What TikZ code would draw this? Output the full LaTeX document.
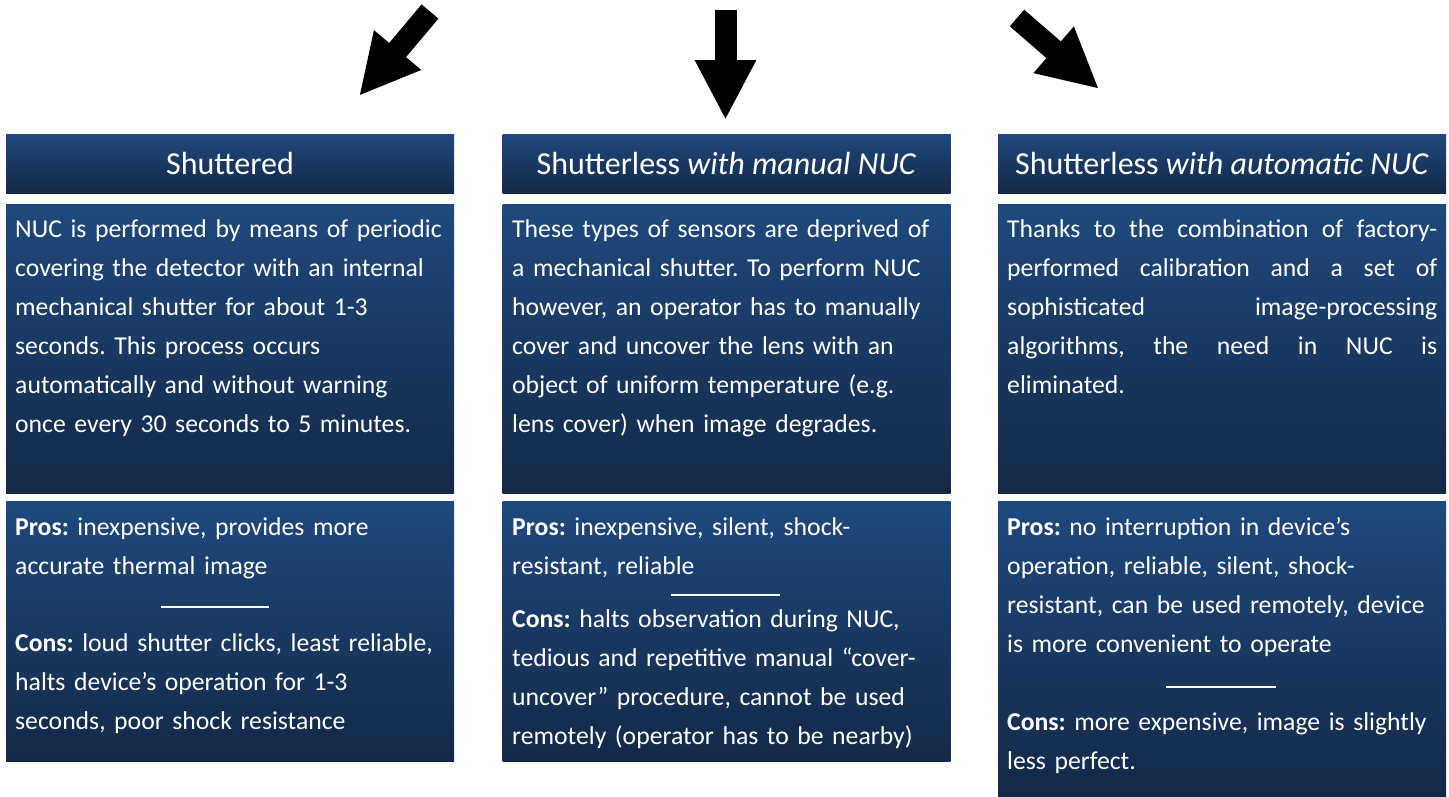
\documentclass[tikz,border=0pt]{standalone}
\usepackage{fontspec}
\setmainfont{Carlito}
\usetikzlibrary{arrows.meta}
\definecolor{boxtop}{RGB}{31,73,125}
\definecolor{boxbottom}{RGB}{19,41,72}
\begin{document}
\frenchspacing
\begin{tikzpicture}[x=1pt,y=-1pt]
    \tikzstyle{box}=[rectangle,top color=boxtop,bottom color=boxbottom,draw=none,minimum width=448pt,inner sep=0pt]
    \tikzstyle{head}=[box,minimum height=59pt,text=white,font=\fontsize{32}{36}\selectfont]
    \tikzstyle{body}=[anchor=north west,inner sep=0pt,text=white,text width=430pt,align=left,font=\fontsize{25.7}{39}\selectfont]
    \tikzstyle{bigarrow}=[line width=22pt,-{Triangle[length=60pt,width=57pt]}]
    \tikzstyle{rule}=[white,line width=2pt]
    \useasboundingbox (0,0) rectangle (1449,796);

      % arrows at the top
      \coordinate (a1s) at (430,11.5);  \coordinate (a1e) at (359,96);
      \coordinate (a2s) at (725.5,10);  \coordinate (a2e) at (725.5,120);
      \coordinate (a3s) at (1017,18);   \coordinate (a3e) at (1099,89);
      \draw[bigarrow] (a1s) -- (a1e);
      \draw[bigarrow] (a2s) -- (a2e);
      \draw[bigarrow] (a3s) -- (a3e);

      % headers
      \node (H1) at (230,163.5)  [head] {Shuttered};
      \node (H2) at (726.5,163.5) [head] {Shutterless \textit{with manual NUC}};
      \node (H3) at (1222,163.5) [head] {Shutterless \textit{with automatic NUC}};

      % boxes
      \node (D1) at (230,348.5)  [box,minimum height=289pt] {};
      \node (D2) at (726.5,348.5) [box,minimum height=289pt] {};
      \node (D3) at (1222,348.5) [box,minimum height=289pt] {};
      \node (P1) at (230,631)    [box,minimum height=260pt] {};
      \node (P2) at (726.5,631)   [box,minimum height=260pt] {};
      \node (P3) at (1222,648.5) [box,minimum height=295pt] {};

      % descriptions
      \node (T1) at (15,209.7) [body] {\strut NUC is performed by means of periodic\\
        covering the detector with an internal\\ mechanical shutter for about 1-3\\
        seconds. This process occurs\\ automatically and without warning\\
        once every 30 seconds to 5 minutes.};
      \node (T2) at (512,209.7) [body] {\strut These types of sensors are deprived of\\
        a mechanical shutter. To perform NUC\\ however, an operator has to manually\\
        cover and uncover the lens with an\\ object of uniform temperature (e.g.\\
        lens cover) when image degrades.};
      \node (T3) at (1007,209.7) [body,align=justify] {\strut Thanks to the combination of factory-\linebreak
        performed calibration and a set of\linebreak sophisticated image-processing\linebreak
        algorithms, the need in NUC is\linebreak eliminated.};

      % pros and cons
      \node (Pro1) at (15,507.7) [body] {\strut\textbf{Pros:} inexpensive, provides more\\ accurate thermal image};
      \node (Con1) at (15,623.7) [body] {\strut\textbf{Cons:} loud shutter clicks, least reliable,\\
        halts device’s operation for 1-3\\ seconds, poor shock resistance};
      \node (Pro2) at (512,507.7) [body] {\strut\textbf{Pros:} inexpensive, silent, shock-\\ resistant, reliable};
      \node (Con2) at (512,599.7) [body] {\strut\textbf{Cons:} halts observation during NUC,\\
        tedious and repetitive manual “cover-\\ uncover” procedure, cannot be used\\
        remotely (operator has to be nearby)};
      \node (Pro3) at (1007,507.7) [body] {\strut\textbf{Pros:} no interruption in device’s\\
        operation, reliable, silent, shock-\\ resistant, can be used remotely, device\\
        is more convenient to operate};
      \node (Con3) at (1007,702.7) [body] {\strut\textbf{Cons:} more expensive, image is slightly\\ less perfect.};

      % separating rules
      \coordinate (r1a) at (161,607);  \coordinate (r1b) at (269,607);
      \coordinate (r2a) at (671,595);  \coordinate (r2b) at (780,595);
      \coordinate (r3a) at (1166,687); \coordinate (r3b) at (1276,687);
      \draw[rule] (r1a) -- (r1b);
      \draw[rule] (r2a) -- (r2b);
      \draw[rule] (r3a) -- (r3b);
  \end{tikzpicture}
\end{document}
